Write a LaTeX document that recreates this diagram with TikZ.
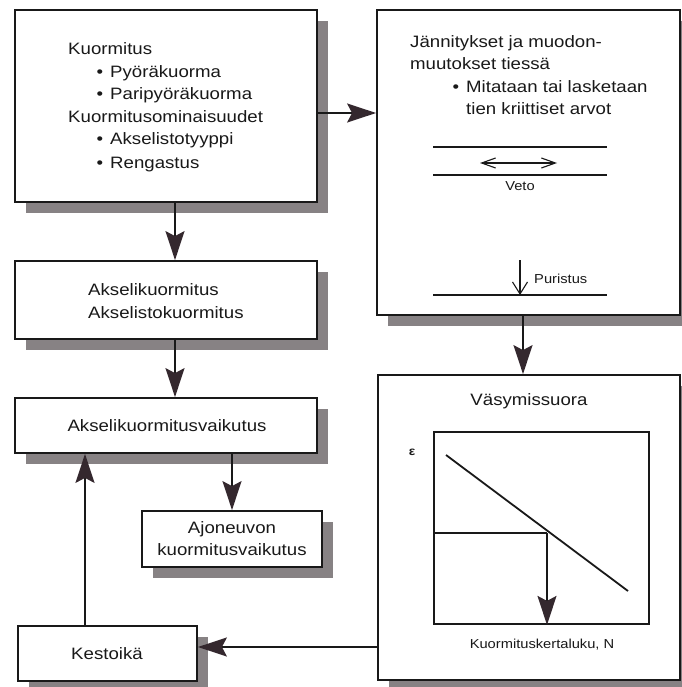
\documentclass[tikz,border=0pt]{standalone}
\usepackage{fontspec}
\setmainfont{Liberation Sans}[FakeStretch=1.13]
\usetikzlibrary{arrows.meta,shadows}
\definecolor{shadowgray}{RGB}{135,130,132}
\definecolor{headcol}{RGB}{52,40,46}
\definecolor{inkcol}{RGB}{25,25,25}
\newcommand\bigf{\fontsize{16.5}{20}\selectfont}
\newcommand\smallf{\fontsize{13}{16}\selectfont}
\tikzset{
  box/.style={draw=inkcol, line width=1.8pt, fill=white, inner sep=0pt,
    drop shadow={shadow xshift=11pt, shadow yshift=-11pt, fill=shadowgray, opacity=1}},
  plotbox/.style={draw=inkcol, line width=1.8pt, inner sep=0pt},
  txt/.style={inner sep=0pt, anchor=base west, font=\bigf, text=inkcol},
  ctxt/.style={inner sep=0pt, anchor=base, font=\bigf, text=inkcol},
  stxt/.style={inner sep=0pt, font=\smallf, text=inkcol},
  arr/.style={draw=inkcol, line width=1.7pt,
    -{Stealth[length=29pt, width=19pt, inset=5pt, fill=headcol, color=headcol]}},
  road/.style={draw=inkcol, line width=1.8pt},
  thin/.style={draw=inkcol, line width=1.1pt},
}
\begin{document}
\begin{tikzpicture}[x=1pt,y=-1pt]
\useasboundingbox (0,0) rectangle (681,687);
% boxes
\node[box, minimum width=302pt, minimum height=192pt] (b1) at (166,106) {};
\node[box, minimum width=303pt, minimum height=305pt] (b2) at (528.5,162.5) {};
\node[box, minimum width=302pt, minimum height=78pt] (b3) at (166,300) {};
\node[box, minimum width=302pt, minimum height=55pt] (b4) at (166,425.5) {};
\node[box, minimum width=180pt, minimum height=56pt] (b5) at (232,539) {};
\node[box, minimum width=179pt, minimum height=55pt] (b6) at (107.5,653.5) {};
\node[box, minimum width=302pt, minimum height=305pt] (b7) at (529,527.5) {};
% box 1 text
\node[txt] (k1) at (68,55) {Kuormitus};
\node[txt] (k2b) at (96.5,78) {•};
\node[txt] (k2) at (110,78) {Pyöräkuorma};
\node[txt] (k3b) at (96.5,100) {•};
\node[txt] (k3) at (110,100) {Paripyöräkuorma};
\node[txt] (k4) at (68,123) {Kuormitusominaisuudet};
\node[txt] (k5b) at (96.5,145) {•};
\node[txt] (k5) at (110,145) {Akselistotyyppi};
\node[txt] (k6b) at (96.5,168) {•};
\node[txt] (k6) at (110,168) {Rengastus};
% box 2 text
\node[txt] (j1) at (410,48) {Jännitykset ja muodon-};
\node[txt] (j2) at (410,70) {muutokset tiessä};
\node[txt] (j3b) at (452.5,93) {•};
\node[txt] (j3) at (466,93) {Mitataan tai lasketaan};
\node[txt] (j4) at (466,115) {tien kriittiset arvot};
% road sketch
\coordinate (r1a) at (433,147); \coordinate (r1b) at (607,147);
\coordinate (r2a) at (433,175); \coordinate (r2b) at (607,175);
\coordinate (r3a) at (433,295); \coordinate (r3b) at (607,295);
\draw[road] (r1a) -- (r1b);
\draw[road] (r2a) -- (r2b);
\draw[road] (r3a) -- (r3b);
\coordinate (va) at (480,163); \coordinate (vb) at (557,163);
\draw[thin, {Straight Barb[length=14pt,width=10pt]}-{Straight Barb[length=14pt,width=10pt]}] (va) -- (vb);
\node[stxt, anchor=base] (veto) at (520,190) {Veto};
\coordinate (pa) at (520,260);
\draw[thin, -{Straight Barb[length=12pt,width=15pt]}] (pa) -- (pa |- r3a);
\node[stxt, anchor=base west] (pur) at (534,283) {Puristus};
% box 3,4,5,6 text
\node[txt] (a1) at (88,295) {Akselikuormitus};
\node[txt] (a2) at (88,318) {Akselistokuormitus};
\node[ctxt] (av) at (167,431) {Akselikuormitusvaikutus};
\node[ctxt] (aj1) at (232,533) {Ajoneuvon};
\node[ctxt] (aj2) at (232,555) {kuormitusvaikutus};
\node[ctxt] (ke) at (107,659) {Kestoikä};
% box 7
\node[ctxt] (vs) at (529,405) {Väsymissuora};
\node[plotbox, minimum width=215pt, minimum height=192pt] (p) at (541.5,528) {};
\node[stxt, anchor=base, font=\fontsize{12}{14}\selectfont\bfseries] (eps) at (412,455) {ε};
\coordinate (d1) at (446,455); \coordinate (d2) at (628,591);
\draw[road] (d1) -- (d2);
\coordinate (ix) at (547,533);
\draw[road] (p.west |- ix) -- (ix);
\draw[arr] (ix) -- (p.south -| ix);
\node[stxt, anchor=base] (kn) at (542,648) {Kuormituskertaluku, N};
% connectors
\coordinate (y1) at (0,113);
\draw[arr] (b1.east |- y1) -- (b2.west |- y1);
\coordinate (x1) at (175,0);
\draw[arr] (b1.south -| x1) -- (b3.north -| x1);
\draw[arr] (b3.south -| x1) -- (b4.north -| x1);
\coordinate (x2) at (232,0);
\draw[arr] (b4.south -| x2) -- (b5.north -| x2);
\coordinate (x3) at (85,0);
\draw[arr] (b6.north -| x3) -- (b4.south -| x3);
\coordinate (x4) at (523,0);
\draw[arr] (b2.south -| x4) -- (b7.north -| x4);
\coordinate (y2) at (0,647);
\draw[arr] (b7.west |- y2) -- (b6.east |- y2);
\end{tikzpicture}
\end{document}
